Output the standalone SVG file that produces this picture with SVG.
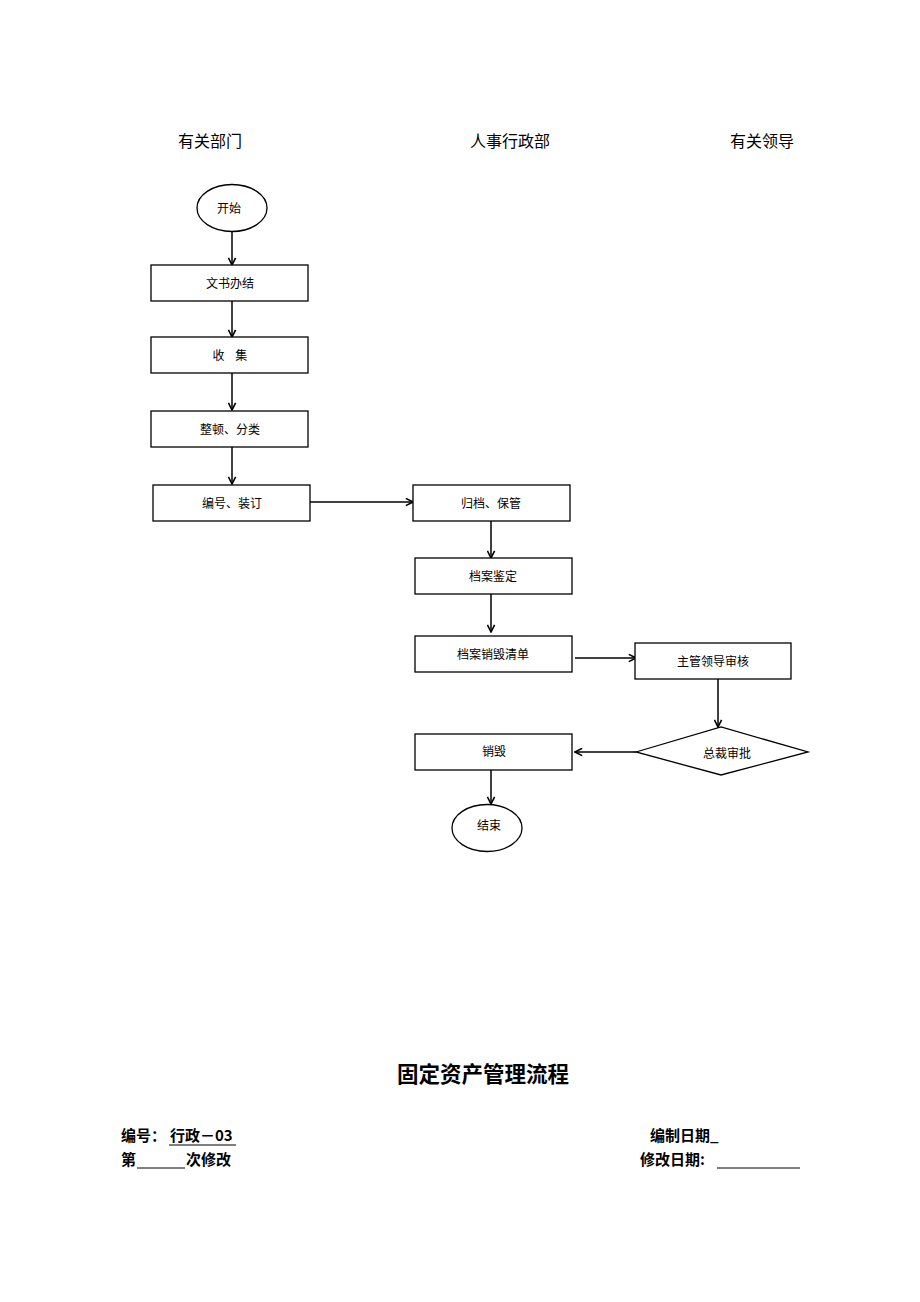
<svg xmlns="http://www.w3.org/2000/svg" width="920" height="1302" viewBox="0 0 920 1302">
<style>
.n{fill:#fff;stroke:#000;stroke-width:1.3}
.t{font-family:"Noto Sans CJK SC","Liberation Sans",sans-serif;font-size:12px;fill:#000;text-anchor:middle;dominant-baseline:central}
.h{font-family:"Noto Sans CJK SC","Liberation Sans",sans-serif;font-size:16px;fill:#000;text-anchor:middle}
.b{font-family:"Noto Sans CJK SC","Liberation Sans",sans-serif;font-weight:bold;fill:#000}
.c{fill:none;stroke:#000;stroke-width:1.5;marker-end:url(#ah)}
.u{stroke:#000;stroke-width:1}
</style>
<defs>
<marker id="ah" viewBox="0 0 10 10" refX="9" refY="5" markerWidth="9" markerHeight="9" orient="auto" markerUnits="userSpaceOnUse">
<path d="M1,1 L9,5 L1,9" fill="none" stroke="#000" stroke-width="1.8"/>
</marker>
</defs>
<rect width="920" height="1302" fill="#fff"/>
<g id="headers">
<text class="h" x="210" y="147">有关部门</text>
<text class="h" x="510" y="147">人事行政部</text>
<text class="h" x="762" y="147">有关领导</text>
</g>
<g id="connectors">
<line class="c" x1="232" y1="232" x2="232" y2="265"/>
<line class="c" x1="232" y1="301" x2="232" y2="337"/>
<line class="c" x1="232" y1="373" x2="232" y2="410"/>
<line class="c" x1="232" y1="447" x2="232" y2="484"/>
<line class="c" x1="310" y1="502" x2="413" y2="502"/>
<line class="c" x1="491" y1="521" x2="491" y2="558"/>
<line class="c" x1="491" y1="594" x2="491" y2="632"/>
<line class="c" x1="575" y1="658" x2="636" y2="658"/>
<line class="c" x1="718" y1="679" x2="718" y2="727"/>
<line class="c" x1="636" y1="752" x2="575" y2="752"/>
<line class="c" x1="491" y1="770" x2="491" y2="804"/>
</g>
<g id="start"><ellipse class="n" cx="232" cy="208" rx="35" ry="23.5"/><text class="t" x="229" y="207">开始</text></g>
<g id="wenshu"><rect class="n" x="151" y="265" width="157" height="36"/><text class="t" x="230" y="282">文书办结</text></g>
<g id="shouji"><rect class="n" x="151" y="337" width="157" height="36"/><text class="t" x="230" y="354" xml:space="preserve">收    集</text></g>
<g id="zhengdun"><rect class="n" x="151" y="411" width="157" height="36"/><text class="t" x="230" y="428">整顿、分类</text></g>
<g id="bianhao"><rect class="n" x="153" y="485" width="157" height="36"/><text class="t" x="232" y="502">编号、装订</text></g>
<g id="guidang"><rect class="n" x="413" y="485" width="157" height="36"/><text class="t" x="491" y="502">归档、保管</text></g>
<g id="jianding"><rect class="n" x="415" y="558" width="157" height="36"/><text class="t" x="493" y="575">档案鉴定</text></g>
<g id="qingdan"><rect class="n" x="415" y="636" width="157" height="36"/><text class="t" x="493" y="653">档案销毁清单</text></g>
<g id="shenhe"><rect class="n" x="635" y="643" width="156" height="36"/><text class="t" x="713" y="660">主管领导审核</text></g>
<g id="shenpi"><polygon class="n" points="636,752 721,727 808,752 721,775"/><text class="t" x="727" y="752">总裁审批</text></g>
<g id="xiaohui"><rect class="n" x="415" y="734" width="157" height="36"/><text class="t" x="494" y="750">销毁</text></g>
<g id="end"><ellipse class="n" cx="487" cy="828" rx="35" ry="23.5"/><text class="t" x="489" y="824">结束</text></g>
<g id="footer">
<text class="b" x="483" y="1082" font-size="21.5" text-anchor="middle">固定资产管理流程</text>
<text class="b" x="121" y="1141" font-size="15">编号：<tspan dx="4">行政－03</tspan></text>
<line class="u" x1="169" y1="1145" x2="236" y2="1145"/>
<text class="b" x="121" y="1165" font-size="15">第</text>
<line class="u" x1="137" y1="1168" x2="185" y2="1168"/>
<text class="b" x="186" y="1165" font-size="15">次修改</text>
<text class="b" x="650" y="1141" font-size="15">编制日期_</text>
<text class="b" x="640" y="1165" font-size="15">修改日期:</text>
<line class="u" x1="717" y1="1168" x2="800" y2="1168"/>
</g>
</svg>
